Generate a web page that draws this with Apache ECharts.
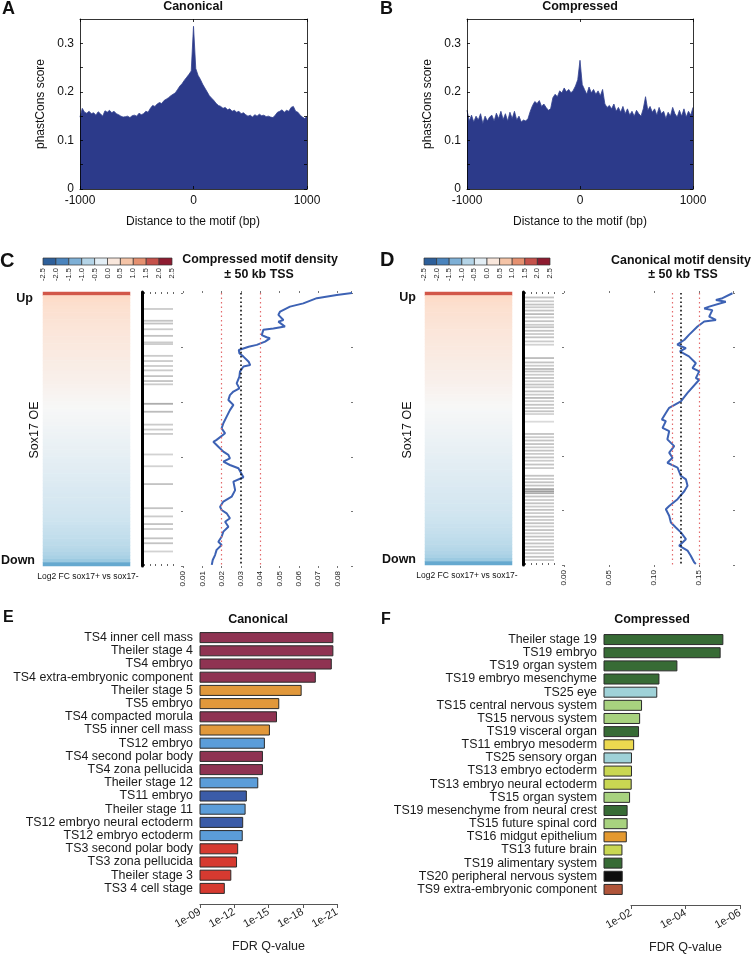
<!DOCTYPE html>
<html><head><meta charset="utf-8">
<script src="https://cdn.jsdelivr.net/npm/echarts@6/dist/echarts.min.js"></script>
<style>html,body{margin:0;padding:0;background:#fff}#c{width:753px;height:956px}</style>
</head><body><div id="c"></div>
<script>
// ---------------- DATA ----------------
// Panels A/B: phastCons score by distance to motif (bins of 20 bp from -1000)
const phastBinStart = -1000, phastBinStep = 20;
const phastCanonical = [
0.148,0.166,0.158,0.156,0.160,0.155,0.157,0.152,0.159,0.155,
0.150,0.161,0.158,0.162,0.157,0.160,0.155,0.153,0.150,0.148,
0.149,0.150,0.147,0.151,0.152,0.150,0.156,0.153,0.155,0.160,
0.158,0.166,0.172,0.170,0.175,0.178,0.176,0.182,0.185,0.188,
0.192,0.195,0.198,0.205,0.212,0.217,0.224,0.230,0.236,0.243,
0.335,
0.248,0.234,0.226,0.216,0.208,0.200,0.192,0.187,0.182,0.176,
0.172,0.170,0.166,0.168,0.163,0.165,0.160,0.162,0.158,0.160,
0.155,0.157,0.153,0.150,0.152,0.148,0.153,0.150,0.154,0.151,
0.152,0.149,0.150,0.148,0.147,0.152,0.158,0.160,0.163,0.158,
0.162,0.160,0.168,0.170,0.160,0.158,0.152,0.148,0.145,0.150];
const phastCompressed = [
0.162,0.140,0.152,0.138,0.150,0.142,0.155,0.135,0.150,0.140,
0.148,0.152,0.140,0.156,0.145,0.160,0.143,0.155,0.140,0.158,
0.145,0.160,0.142,0.150,0.138,0.142,0.140,0.145,0.160,0.172,
0.180,0.176,0.182,0.170,0.175,0.168,0.162,0.165,0.188,0.195,
0.190,0.202,0.198,0.208,0.200,0.205,0.198,0.203,0.212,0.225,
0.265,
0.215,0.205,0.195,0.210,0.198,0.205,0.195,0.202,0.192,0.205,
0.175,0.168,0.172,0.165,0.175,0.160,0.168,0.158,0.170,0.155,
0.165,0.152,0.160,0.150,0.162,0.155,0.150,0.165,0.190,0.162,
0.170,0.158,0.165,0.152,0.168,0.155,0.160,0.145,0.158,0.150,
0.168,0.155,0.148,0.162,0.150,0.165,0.148,0.160,0.152,0.168];

// Panels C/D: log2 FC sox17+ vs sox17- (genes sorted, top = Up)
const log2FC = [
1.95,
0.62,0.58,0.55,0.52,0.50,0.48,0.46,0.44,0.42,
0.40,0.38,0.37,0.35,0.34,0.32,0.31,0.29,0.28,0.26,
0.25,0.23,0.22,0.20,0.18,0.17,0.15,0.13,0.11,0.09,
0.07,0.05,0.03,0.01,-0.01,-0.03,-0.05,-0.07,-0.09,-0.11,
-0.13,-0.15,-0.17,-0.19,-0.21,-0.23,-0.25,-0.27,-0.29,-0.31,
-0.33,-0.35,-0.37,-0.39,-0.41,-0.43,-0.45,-0.47,-0.49,-0.51,
-0.53,-0.55,-0.57,-0.59,-0.61,-0.63,-0.65,-0.67,-0.70,-0.72,
-0.74,-0.77,-0.80,-0.83,-0.86,-0.90,-0.95,-1.02,-1.15,-1.60];
const colorbarTicks = [-2.5,-2.0,-1.5,-1.0,-0.5,0.0,0.5,1.0,1.5,2.0,2.5];

// motif-present genes: [rank position 0..100, shade]
const stripesCompressed = [
[6.2,.25],[10.5,.3],[11.5,.3],[13.6,.25],[16,.3],[18.4,.25],[19,.25],[23.3,.25],[25.2,.25],[27,.25],
[28.6,.25],[30.7,.3],[32.5,.3],[33.7,.25],[40.8,.45],[43.7,.35],[48.4,.25],[50.2,.25],[51.8,.25],[59.3,.2],
[63.6,.2],[70.1,.3],[78.9,.3],[81.9,.25],[84.7,.3],[86.5,.25],[89.9,.3],[91.7,.3],[94.7,.2]];
const stripesCanonical = [
[2.0,.3],[3.4,.25],[4.6,.3],[5.6,.25],[6.8,.3],[8.1,.35],[9.3,.25],[10.7,.3],[12.0,.25],[12.9,.3],
[14.2,.3],[15.4,.25],[16.6,.3],[18.1,.25],[19.3,.2],[24.2,.35],[25.8,.3],[27.0,.25],[28.2,.35],[29.1,.3],
[30.3,.25],[31.5,.3],[32.7,.25],[33.9,.3],[34.9,.25],[36.4,.3],[37.6,.25],[38.8,.35],[40.0,.25],[41.3,.3],
[42.5,.25],[43.7,.3],[44.7,.2],[47.5,.15],[52.0,.3],[53.2,.25],[54.4,.3],[55.7,.3],[56.9,.25],[58.1,.3],
[59.3,.25],[60.6,.3],[61.8,.25],[63.2,.3],[64.5,.25],[67.3,.3],[68.5,.25],[69.7,.3],[70.9,.3],[72.2,.5],
[73.0,.55],[73.7,.45],[74.9,.3],[76.2,.25],[77.4,.3],[78.6,.25],[79.8,.3],[81.0,.25],[82.3,.3],[83.5,.25],
[84.7,.3],[85.9,.25],[87.2,.3],[88.4,.25],[89.6,.3],[90.8,.25],[92.1,.3],[93.3,.25],[94.5,.3],[95.7,.25],
[97.0,.3],[98.2,.25]];

// motif density profiles: [density, rank position 0(top)..100(bottom)]
const densityCompressed = [
[0.0877,0],[0.0796,0.7],[0.0693,1.9],[0.0623,3.8],[0.0554,5],[0.0503,6.8],[0.0494,8],[0.0520,9.9],[0.0494,10.5],
[0.0528,12.3],[0.0468,13],[0.0416,13.5],[0.0408,15.4],[0.0433,16.2],[0.0450,16.6],[0.0425,17.8],[0.0382,19],
[0.0340,19.7],[0.0289,20.9],[0.0292,22.1],[0.0313,23.3],[0.0340,25.2],[0.0348,26.4],[0.0313,26.9],[0.0295,28.8],
[0.0292,30.6],[0.0278,33.1],[0.0292,34.9],[0.0261,36.1],[0.0243,37.4],[0.0235,39.2],[0.0261,41],[0.0243,42.9],
[0.0226,45.3],[0.0209,47.7],[0.0200,49.6],[0.0218,51.4],[0.0174,53.8],[0.0157,54.5],[0.0183,56.3],[0.0209,58.1],
[0.0235,59.3],[0.0243,60.6],[0.0209,61.8],[0.0243,63],[0.0287,64.2],[0.0313,67.5],[0.0261,69.1],[0.0270,72.2],
[0.0252,74.6],[0.0209,76.4],[0.0192,78.3],[0.0200,79.5],[0.0226,80.7],[0.0243,82.5],[0.0218,83.8],[0.0235,85.6],
[0.0209,87.4],[0.0200,89.3],[0.0183,91.1],[0.0200,92.3],[0.0174,94.1],[0.0166,96],[0.0154,97.8],[0.0149,99.6]];
const densityCanonical = [
[0.1874,0.1],[0.1763,1.9],[0.1690,2.6],[0.1800,3.2],[0.1615,5],[0.1560,5.7],[0.1650,6.3],[0.1615,8.7],[0.1690,9.9],
[0.1560,10.5],[0.1485,12.3],[0.1390,15.4],[0.1340,17.2],[0.1260,19],[0.1356,20.3],[0.1289,21.5],[0.1390,23.3],
[0.1467,25.8],[0.1430,27.6],[0.1504,28.8],[0.1467,31.3],[0.1504,31.9],[0.1374,36.7],[0.1300,39.8],[0.1170,42.2],
[0.1133,44.1],[0.1089,46.5],[0.1133,47.1],[0.1096,49.6],[0.1170,50.8],[0.1150,53.8],[0.1226,56.3],[0.1170,58.7],
[0.1207,60.6],[0.1150,62.4],[0.1263,64.2],[0.1300,67.2],[0.1356,68.5],[0.1374,70.9],[0.1340,72.8],[0.1263,75.8],
[0.1170,78.3],[0.1133,79.5],[0.1170,81.9],[0.1189,84.4],[0.1244,86.2],[0.1300,88],[0.1356,90.5],[0.1281,92.9],
[0.1374,94.7],[0.1410,96.6],[0.1448,99],[0.1467,99.6]];
// reference lines [low, mean, high]
const refCompressed = [0.0166, 0.0295, 0.0420];
const refCanonical = [0.117, 0.134, 0.150];

// Panel E: canonical, -log10(FDR Q)
const canonTerms = ['TS4 inner cell mass','Theiler stage 4','TS4 embryo','TS4 extra-embryonic component','Theiler stage 5',
'TS5 embryo','TS4 compacted morula','TS5 inner cell mass','TS12 embryo','TS4 second polar body','TS4 zona pellucida',
'Theiler stage 12','TS11 embryo','Theiler stage 11','TS12 embryo neural ectoderm','TS12 embryo ectoderm',
'TS3 second polar body','TS3 zona pellucida','Theiler stage 3','TS3 4 cell stage'];
const canonNegLogQ = [20.64,20.64,20.5,19.1,17.86,15.9,15.7,15.08,14.64,14.47,14.47,14.06,13.06,12.95,12.74,12.7,12.3,12.2,11.7,11.13];
const canonGroup = ['ts4','ts4','ts4','ts4','ts5','ts5','ts4','ts5','lb','ts4','ts4','lb','db','lb','db','lb','ts3','ts3','ts3','ts3'];

// Panel F: compressed, -log10(FDR Q)
const compTerms = ['Theiler stage 19','TS19 embryo','TS19 organ system','TS19 embryo mesenchyme','TS25 eye',
'TS15 central nervous system','TS15 nervous system','TS19 visceral organ','TS11 embryo mesoderm','TS25 sensory organ',
'TS13 embryo ectoderm','TS13 embryo neural ectoderm','TS15 organ system','TS19 mesenchyme from neural crest',
'TS15 future spinal cord','TS16 midgut epithelium','TS13 future brain','TS19 alimentary system',
'TS20 peripheral nervous system','TS9 extra-embryonic component'];
const compNegLogQ = [5.37,5.27,3.68,3.02,2.94,2.38,2.31,2.27,2.09,2.01,2.01,2.0,1.94,1.85,1.85,1.82,1.66,1.66,1.67,1.67];
const compGroup = ['ts19','ts19','ts19','ts19','ts25','ts15','ts15','ts19','ts11','ts25','ts13','ts13','ts15','ts19','ts15','ts16','ts13','ts19','ts20','ts9'];

// ---------------- STYLE ----------------
const FONT = '"Liberation Sans", Arial, Helvetica, sans-serif';
const NAVY = '#2c3a8a';
const RDBU = ['#2166ac','#4393c3','#92c5de','#d1e5f0','#f7f7f7','#fddbc7','#f4a582','#d6604d','#b2182b'];
const colorbarColors = ['#2d5f9a','#4a84bd','#7eb0d6','#b4d4e7','#e3eef5','#f9e7dc','#f5c4a7','#e5906f','#c5514a','#8e1b30'];
const palE = {ts4:'#8f3352', ts5:'#e1983b', lb:'#5b9dd9', db:'#3b5ca8', ts3:'#d63a30'};
const palF = {ts19:'#376b35', ts25:'#9fd2d8', ts15:'#a8d27f', ts11:'#ecd94f', ts13:'#c9d752', ts16:'#e4992f', ts20:'#0d0d0d', ts9:'#b0553a'};

// ---------------- BUILD ----------------
const grids = [
 {left:80, top:19, width:227, height:170},   //0 A
 {left:467, top:19, width:226, height:170},  //1 B
 {left:43, top:258, width:129, height:7},    //2 C colorbar
 {left:43, top:292, width:87, height:274},   //3 C heatmap
 {left:144, top:292, width:29, height:274},  //4 C stripes
 {left:183, top:293, width:168, height:273}, //5 C line
 {left:424, top:258, width:126, height:7},   //6 D colorbar
 {left:425, top:292, width:87, height:273},  //7 D heatmap
 {left:525, top:292, width:29, height:273},  //8 D stripes
 {left:564, top:293, width:169, height:272}, //9 D line
 {left:200, top:631, width:137, height:264}, //10 E
 {left:604, top:633, width:136, height:263}, //11 F bars
 {left:631, top:633, width:109, height:263}  //12 F axis
].map(g => Object.assign({containLabel:false, outerBoundsMode:'none'}, g));

const xAxes = [], yAxes = [], series = [];
function addX(o){ xAxes.push(o); return xAxes.length-1; }
function addY(o){ yAxes.push(o); return yAxes.length-1; }
const hidden = {show:false};
const noLine = {show:false, onZero:false};
const lbl = (o) => Object.assign({fontFamily:FONT, color:'#111'}, o);

// ---- A / B ----
function phastPanel(gi, values){
  const box = {show:true, onZero:false, lineStyle:{color:'#000', width:0.8}};
  const tk = {show:true, inside:true, length:3, lineStyle:{color:'#000', width:0.8}};
  const xb = addX({gridIndex:gi, type:'value', min:-1000, max:1000, interval:1000, position:'bottom', z:5,
    axisLine:box, axisTick:tk,
    axisLabel:lbl({fontSize:12, margin:6, formatter:v=>String(v)}), splitLine:hidden});
  addX({gridIndex:gi, type:'value', min:-1000, max:1000, interval:1000, position:'top', z:5,
    axisLine:box, axisTick:tk, axisLabel:hidden, splitLine:hidden});
  const yl = addY({gridIndex:gi, type:'value', min:0, max:0.35, interval:0.05, position:'left', z:5,
    axisLine:box, axisTick:tk,
    axisLabel:lbl({fontSize:12, margin:6, showMaxLabel:false, formatter:v=>{const k=Math.round(v*100); return k%10===0? String(k/100):'';}}),
    splitLine:hidden});
  addY({gridIndex:gi, type:'value', min:0, max:0.35, interval:0.05, position:'right', z:5,
    axisLine:box, axisTick:tk, axisLabel:hidden, splitLine:hidden});
  series.push({type:'line', xAxisIndex:xb, yAxisIndex:yl, showSymbol:false, silent:true,
    data: values.map((v,i)=>[phastBinStart + i*phastBinStep, v]),
    lineStyle:{color:'#34438f', width:0.8}, areaStyle:{color:NAVY, opacity:1}, z:1});
}
phastPanel(0, phastCanonical);
phastPanel(1, phastCompressed);

// ---- colorbar ----
function colorbar(gi){
  const xi = addX({gridIndex:gi, type:'value', min:-2.5, max:2.5, interval:0.5,
    axisLine:noLine, axisTick:hidden, splitLine:hidden,
    axisLabel:lbl({fontSize:7.5, rotate:90, margin:3, color:'#222', formatter:v=>v.toFixed(1)})});
  const yi = addY({gridIndex:gi, type:'value', min:0, max:1, show:false, axisLine:noLine});
  series.push({type:'custom', xAxisIndex:xi, yAxisIndex:yi, silent:true,
    data: colorbarColors.map((c,i)=>[colorbarTicks[i], colorbarTicks[i+1]]),
    renderItem:(params, api)=>{
      const p0 = api.coord([api.value(0), 1]), p1 = api.coord([api.value(1), 0]);
      return {type:'rect', shape:{x:p0[0], y:p0[1], width:p1[0]-p0[0], height:p1[1]-p0[1]},
        style:{fill:colorbarColors[params.dataIndex], stroke:'#333', lineWidth:0.7}};
    }});
}
// ---- heatmap ----
const heatSeriesIdx = [];
function heat(gi){
  const xi = addX({gridIndex:gi, type:'category', data:['FC'], show:false});
  const yi = addY({gridIndex:gi, type:'category', data:log2FC.map((_,i)=>i), inverse:true, show:false});
  heatSeriesIdx.push(series.length);
  series.push({type:'heatmap', xAxisIndex:xi, yAxisIndex:yi, silent:true,
    data: log2FC.map((v,i)=>[0,i,v]), itemStyle:{borderWidth:0}});
}
// ---- stripes ----
function stripes(gi, list){
  const tk = {show:true, inside:true, length:2, lineStyle:{color:'#666', width:1}};
  const xi = addX({gridIndex:gi, type:'value', min:0, max:5, interval:1, position:'bottom',
    axisLine:noLine, axisTick:tk, axisLabel:hidden, splitLine:hidden});
  addX({gridIndex:gi, type:'value', min:0, max:5, interval:1, position:'top',
    axisLine:noLine, axisTick:tk, axisLabel:hidden, splitLine:hidden});
  const yi = addY({gridIndex:gi, type:'value', min:0, max:100, inverse:true, position:'left', offset:2,
    axisLine:{show:true, onZero:false, lineStyle:{color:'#000', width:3}}, axisTick:hidden, axisLabel:hidden, splitLine:hidden});
  series.push({type:'scatter', xAxisIndex:xi, yAxisIndex:yi, silent:true, symbol:'rect', symbolSize:[29,1.8],
    data: list.map(s=>[2.5, s[0], s[1]]),
    itemStyle:{opacity:1, color:p=>{const g=Math.round(240 - p.value[2]*150); return `rgb(${g},${g},${g})`;}}});
}
// ---- density line ----
function density(gi, data, maxX, interval, refs){
  const tk = {show:true, length:2, inside:false, lineStyle:{color:'#777', width:1}};
  const xi = addX({gridIndex:gi, type:'value', min:0, max:maxX, interval:interval, position:'bottom',
    axisLine:noLine, axisTick:tk, splitLine:hidden,
    axisLabel:lbl({fontSize:8, rotate:90, margin:5, color:'#222', showMaxLabel:false, formatter:v=>v.toFixed(2)})});
  addX({gridIndex:gi, type:'value', min:0, max:maxX, interval:interval, position:'top',
    axisLine:noLine, axisTick:tk, axisLabel:hidden, splitLine:hidden});
  const yi = addY({gridIndex:gi, type:'value', min:0, max:100, interval:20, inverse:true, position:'left',
    axisLine:noLine, axisTick:tk, axisLabel:hidden, splitLine:hidden});
  addY({gridIndex:gi, type:'value', min:0, max:100, interval:20, inverse:true, position:'right',
    axisLine:noLine, axisTick:tk, axisLabel:hidden, splitLine:hidden});
  series.push({type:'line', xAxisIndex:xi, yAxisIndex:yi, showSymbol:false, silent:true, data:data,
    lineStyle:{color:'#3d62b4', width:2}, z:3,
    markLine:{silent:true, symbol:'none', label:{show:false}, animation:false,
      data:[
        {xAxis:refs[0], lineStyle:{color:'#e36a6c', width:1.2, type:[1.5,3]}},
        {xAxis:refs[1], lineStyle:{color:'#111', width:1.6, type:[1.6,2.6]}},
        {xAxis:refs[2], lineStyle:{color:'#e36a6c', width:1.2, type:[1.5,3]}}
      ]}});
}
colorbar(2); heat(3); stripes(4, stripesCompressed); density(5, densityCompressed, 0.087, 0.01, refCompressed);
colorbar(6); heat(7); stripes(8, stripesCanonical); density(9, densityCanonical, 0.188, 0.05, refCanonical);

// ---- bar panels ----
function barPanel(gi, terms, vals, groups, pal, minV, maxV){
  const xi = addX({gridIndex:gi, type:'value', min:minV, max:maxV, show:false, axisLine:noLine});
  const yi = addY({gridIndex:gi, type:'category', data:terms, inverse:true,
    axisLine:noLine, axisTick:hidden, splitLine:hidden,
    axisLabel:lbl({fontSize:12.4, margin:7, color:'#1a1a1a', interval:0})});
  series.push({type:'custom', xAxisIndex:xi, yAxisIndex:yi, silent:true,
    encode:{x:0, y:1},
    data: vals.map((v,i)=>({value:[v,i], itemStyle:{color:pal[groups[i]]}})),
    renderItem:(params, api)=>{
      const s = api.coord([minV, api.value(1)]), e = api.coord([api.value(0), api.value(1)]);
      const h = api.size([0,1])[1]*0.76;
      return {type:'rect', shape:{x:s[0], y:s[1]-h/2, width:e[0]-s[0], height:h},
        style:{fill:api.visual('color'), stroke:'#2a2a2a', lineWidth:1}};
    }});
}
function qAxis(gi, minV, maxV, step, fmt){
  addX({gridIndex:gi, type:'value', min:minV, max:maxV, interval:step, position:'bottom', offset:9,
    axisLine:{show:true, onZero:false, lineStyle:{color:'#555', width:1.2}},
    axisTick:{show:true, length:4, lineStyle:{color:'#555', width:1}}, splitLine:hidden,
    axisLabel:lbl({fontSize:11, rotate:30, margin:7, color:'#222', formatter:fmt}),
    name:'FDR Q-value', nameLocation:'middle', nameGap:36,
    nameTextStyle:{fontFamily:FONT, fontSize:12.5, color:'#222'}});
}
barPanel(10, canonTerms, canonNegLogQ, canonGroup, palE, 9, 21);
qAxis(10, 9, 21, 3, v=>'1e-' + (v<10 ? '0'+v : String(v)));
barPanel(11, compTerms, compNegLogQ, compGroup, palF, 1, 6);
qAxis(12, 2, 6, 2, v=>'1e-0' + v);
addY({gridIndex:12, type:'value', min:0, max:1, show:false, axisLine:noLine});

// ---- texts ----
function txt(x, y, text, size, opts){
  opts = opts || {};
  const el = {type:'text', x:x, y:y, silent:true,
    style:{text:text, font:(opts.bold?'bold ':'')+size+'px '+FONT, fill:'#111',
      textAlign:opts.align||'left', textVerticalAlign:'middle'}};
  if (opts.rot) el.rotation = opts.rot;
  return el;
}
const graphics = [
  txt(2, 9, 'A', 18, {bold:true}), txt(380, 9, 'B', 18, {bold:true}),
  txt(193, 7, 'Canonical', 12.5, {bold:true, align:'center'}),
  txt(580, 7, 'Compressed', 12.5, {bold:true, align:'center'}),
  txt(193, 222, 'Distance to the motif (bp)', 12, {align:'center'}),
  txt(580, 222, 'Distance to the motif (bp)', 12, {align:'center'}),
  txt(41, 104, 'phastCons score', 12, {align:'center', rot:Math.PI/2}),
  txt(428, 104, 'phastCons score', 12, {align:'center', rot:Math.PI/2}),
  txt(0, 261, 'C', 20, {bold:true}), txt(380, 260, 'D', 20, {bold:true}),
  txt(260, 260, 'Compressed motif density', 12.4, {bold:true, align:'center'}),
  txt(259, 275, '± 50 kb TSS', 12.4, {bold:true, align:'center'}),
  txt(681, 261, 'Canonical motif density', 12.4, {bold:true, align:'center'}),
  txt(683, 275, '± 50 kb TSS', 12.4, {bold:true, align:'center'}),
  txt(33, 299, 'Up', 12.5, {bold:true, align:'right'}),
  txt(35, 561, 'Down', 12.5, {bold:true, align:'right'}),
  txt(416, 298, 'Up', 12.5, {bold:true, align:'right'}),
  txt(416, 560, 'Down', 12.5, {bold:true, align:'right'}),
  txt(35, 430, 'Sox17 OE', 12.5, {align:'center', rot:Math.PI/2}),
  txt(408, 430, 'Sox17 OE', 12.5, {align:'center', rot:Math.PI/2}),
  txt(88, 577, 'Log2 FC sox17+ vs sox17-', 8.5, {align:'center'}),
  txt(467, 576, 'Log2 FC sox17+ vs sox17-', 8.5, {align:'center'}),
  txt(3, 618, 'E', 16, {bold:true}), txt(381, 620, 'F', 16, {bold:true}),
  txt(258, 620, 'Canonical', 12.5, {bold:true, align:'center'}),
  txt(652, 620, 'Compressed', 12.5, {bold:true, align:'center'})
];

const option = {
  animation:false,
  backgroundColor:'#fff',
  grid:grids, xAxis:xAxes, yAxis:yAxes, series:series,
  visualMap:[{type:'continuous', show:false, seriesIndex:heatSeriesIdx, min:-2.5, max:2.5, dimension:2,
    inRange:{color:RDBU}}],
  graphic:{elements:graphics}
};
const chart = echarts.init(document.getElementById('c'), null, {renderer:'canvas', width:753, height:956});
chart.setOption(option);
</script>
</body></html>
